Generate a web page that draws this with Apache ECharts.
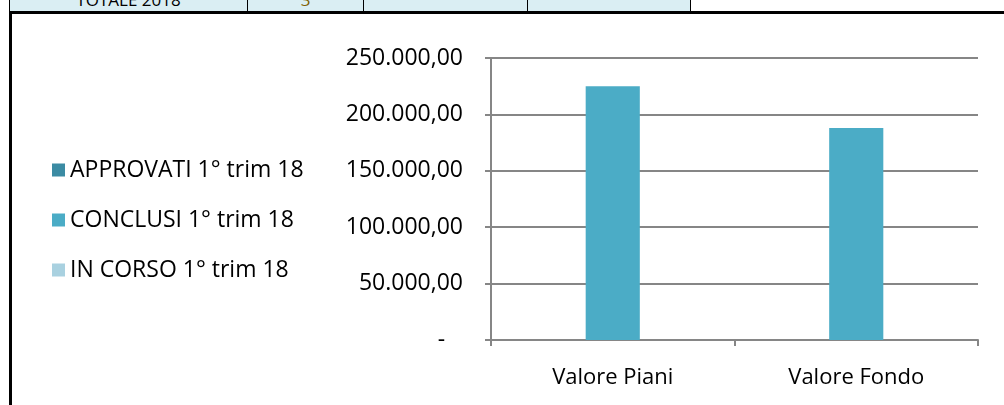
<!DOCTYPE html>
<html>
<head>
<meta charset="utf-8">
<script src="https://cdn.jsdelivr.net/npm/echarts@6/dist/echarts.min.js"></script>
<style>
  html, body { margin: 0; padding: 0; background: #fff; }
  #wrap { position: relative; width: 1004px; height: 405px; overflow: hidden; }
  /* frammento della tabella sopra il grafico */
  .tbl { position: absolute; top: -14px; left: 9px; height: 24px; border-collapse: collapse; font-family: "Open Sans", sans-serif; font-size: 17px; }
  .tbl td { background: #DAEEF3; border: 1px solid #000; text-align: center; padding: 0; height: 24px; }
  #frame { position: absolute; left: 9px; top: 11px; width: 1010px; height: 420px; border-left: 3px solid #000; border-top: 3px solid #000; box-sizing: border-box; }
  #chart { position: absolute; left: 0; top: 0; width: 1004px; height: 405px; }
</style>
</head>
<body>
<div id="wrap">
  <table class="tbl">
    <tr>
      <td style="width:237px">TOTALE 2018</td>
      <td style="width:115px; color:#7f6000">3</td>
      <td style="width:163px"></td>
      <td style="width:162px"></td>
    </tr>
  </table>
  <div id="frame"></div>
  <div id="chart"></div>
</div>
<script>
// categorie e serie
const categories = ['Valore Piani', 'Valore Fondo'];
const seriesNames = ['APPROVATI 1° trim 18', 'CONCLUSI 1° trim 18', 'IN CORSO 1° trim 18'];
const approvati = [0, 0];
const conclusi = [225000, 188000];
const inCorso = [0, 0];
const colors = ['#3B8BA3', '#4BACC6', '#A9D1E0'];

function fmtIt(v) {
  if (v === 0) return '-   ';
  const parts = v.toFixed(2).split('.');
  const intPart = parts[0].replace(/\B(?=(\d{3})+(?!\d))/g, '.');
  return intPart + ',' + parts[1];
}

const chart = echarts.init(document.getElementById('chart'));
const font = '"Open Sans", sans-serif';

const option = {
  animation: false,
  color: colors,
  textStyle: { fontFamily: font },
  legend: {
    orient: 'vertical',
    left: 47,
    top: 152,
    itemWidth: 13,
    itemHeight: 13,
    itemGap: 24,
    icon: 'rect',
    textStyle: { fontSize: 23, color: '#000', fontFamily: font, lineHeight: 26 },
    data: seriesNames
  },
  grid: { left: 491, right: 26, top: 58, bottom: 65 },
  xAxis: {
    type: 'category',
    data: categories,
    axisLine: { lineStyle: { color: '#868686', width: 2 } },
    axisTick: { show: true, length: 6, alignWithLabel: false, lineStyle: { color: '#868686', width: 2 } },
    axisLabel: { fontSize: 22, color: '#000', margin: 27, fontFamily: font }
  },
  yAxis: {
    type: 'value',
    min: 0,
    max: 250000,
    interval: 50000,
    axisLine: { show: true, lineStyle: { color: '#868686', width: 2 } },
    axisTick: { show: true, length: 6, lineStyle: { color: '#868686', width: 2 } },
    splitLine: { lineStyle: { color: '#868686', width: 2 } },
    axisLabel: { fontSize: 23, color: '#000', margin: 28, fontFamily: font, formatter: fmtIt }
  },
  series: [
    { name: seriesNames[0], type: 'bar', data: approvati, barGap: 0, barCategoryGap: '33.3%' },
    { name: seriesNames[1], type: 'bar', data: conclusi, barGap: 0, barCategoryGap: '33.3%' },
    { name: seriesNames[2], type: 'bar', data: inCorso, barGap: 0, barCategoryGap: '33.3%' }
  ]
};
chart.setOption(option);
</script>
</body>
</html>
